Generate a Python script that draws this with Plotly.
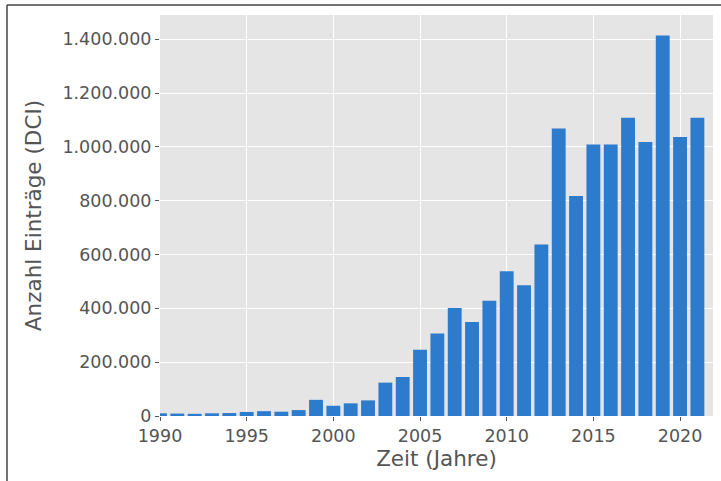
import plotly.graph_objects as go

years = list(range(1990, 2022))
entries = [
    10000, 9000, 8000, 10000, 11000, 15000, 18000, 16000, 22000, 60000,
    38000, 47000, 58000, 124000, 145000, 246000, 307000, 401000, 349000, 428000,
    538000, 486000, 637000, 1068000, 817000, 1009000, 1009000, 1108000, 1018000, 1414000,
    1037000, 1108000,
]
y_ticks = [0, 200000, 400000, 600000, 800000, 1000000, 1200000, 1400000]
y_tick_labels = ["0", "200.000", "400.000", "600.000", "800.000", "1.000.000", "1.200.000", "1.400.000"]
x_ticks = [1990, 1995, 2000, 2005, 2010, 2015, 2020]

W, H = 721, 481
L, R, T, B = 160, 8, 15, 65
pw, ph = W - L - R, H - T - B

def px(x):
    return (x - L) / pw

def py(y):
    return (H - B - y) / ph

fig = go.Figure(go.Bar(
    x=years, y=entries, width=0.8,
    marker=dict(color="#2c7bcc", line=dict(width=0)),
))

font = "DejaVu Sans, sans-serif"
fig.update_layout(
    width=W, height=H,
    margin=dict(l=L, r=R, t=T, b=B),
    paper_bgcolor="white",
    plot_bgcolor="#E5E5E5",
    showlegend=False,
    font=dict(family=font, color="#555555"),
    xaxis=dict(
        range=[1990, 2021.9],
        tickvals=x_ticks,
        ticks="outside", ticklen=4, tickcolor="#555555", tickwidth=1,
        tickfont=dict(size=17.5, color="#555555"),
        showgrid=True, gridcolor="white", gridwidth=1.2,
        zeroline=False, showline=False,
        title=dict(text="Zeit (Jahre)", font=dict(size=21.5, color="#555555"), standoff=4),
    ),
    yaxis=dict(
        range=[0, 1490000],
        tickvals=y_ticks, ticktext=y_tick_labels,
        ticks="outside", ticklen=4, tickcolor="#555555", tickwidth=1,
        tickfont=dict(size=17.5, color="#555555"),
        showgrid=True, gridcolor="white", gridwidth=1.2,
        zeroline=False, showline=False,
        title=dict(text="Anzahl Einträge (DCI)", font=dict(size=21.5, color="#555555"), standoff=14),
    ),
    shapes=[
        dict(type="line", xref="paper", yref="paper",
             x0=px(7), x1=px(721), y0=py(5), y1=py(5),
             line=dict(color="#444444", width=1.5)),
        dict(type="line", xref="paper", yref="paper",
             x0=px(7), x1=px(7), y0=py(5), y1=py(481),
             line=dict(color="#444444", width=1.5)),
    ],
)

fig.write_html("out.html")
